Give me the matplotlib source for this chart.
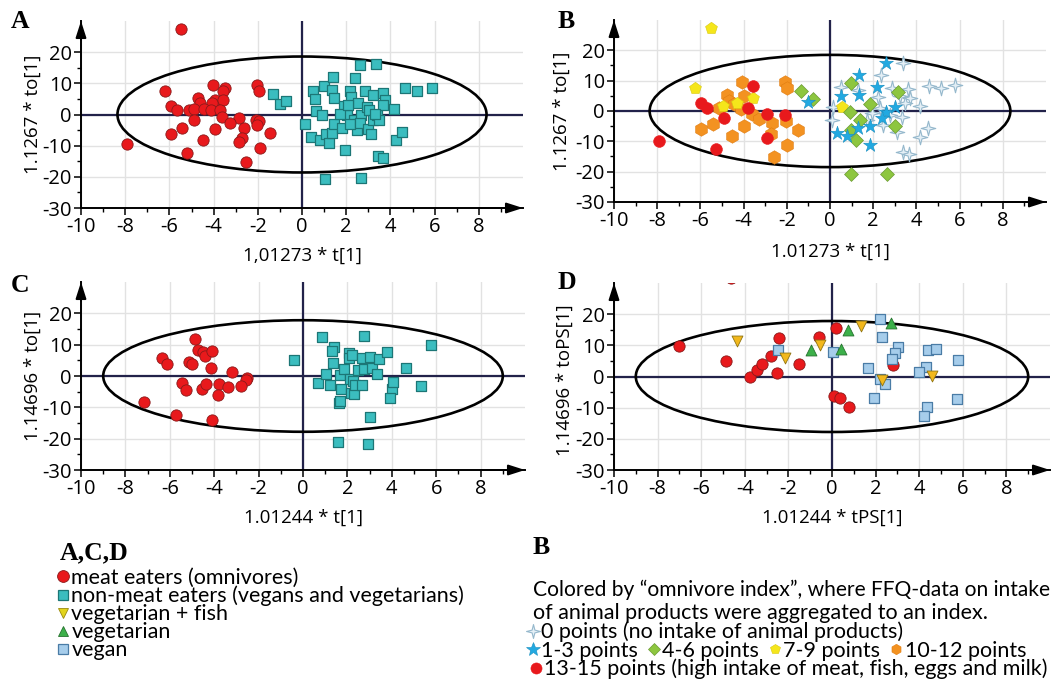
import matplotlib
matplotlib.use('Agg')
import matplotlib.pyplot as plt
from matplotlib.patches import Ellipse
from matplotlib.path import Path
from matplotlib.lines import Line2D

plt.rcParams['font.family'] = 'Open Sans'
plt.rcParams['axes.unicode_minus'] = False

W, H = 1057, 686

# ---------------- data ----------------
# A: meat eaters vs non-meat eaters
a_meat_x = [-5.46, -6.2, -4.03, -3.5, -3.56, -2.04, -1.96, -4.69, -4.6, -3.94, -3.56, -4.07,
            -5.94, -5.67, -5.1, -4.9, -4.42, -4.12, -3.73, -3.62, -4.9, -2.87, -2.07, -1.96,
            -3.27, -2.04, -5.42, -3.94, -2.63, -5.94, -1.43, -4.49, -2.7, -2.87, -7.92, -1.92,
            -5.22, -2.53]
a_meat_y = [27.3, 7.7, 9.5, 8.6, 7.5, 9.5, 7.7, 5.2, 3.7, 4.8, 4.5, 3.6,
            2.8, 1.3, 1.3, 1.8, 1.8, 1.3, 1.3, -0.9, -1.9, -1.1, -1.7, -2.1,
            -2.8, -3.4, -4.4, -4.6, -4.3, -6.1, -5.9, -8.1, -7.4, -8.8, -9.6, -10.9,
            -12.4, -15.1]
a_non_x = [-1.31, -0.98, -0.71, 0.14, 0.51, 0.59, 0.98, 0.63, 0.92, 0.41, 0.81, 1.09,
           1.21, 1.34, 1.39, 1.34, 1.46, 1.43, 1.79, 1.92, 1.96, 2.02, 2.16, 2.22,
           2.41, 2.62, 3.35, 2.52, 2.47, 2.37, 2.16, 2.67, 2.64, 2.87, 2.93, 3.05,
           2.97, 3.12, 3.2, 3.23, 3.39, 3.5, 3.65, 3.77, 3.65, 3.45, 3.65, 4.18,
           4.25, 4.52, 4.66, 5.19, 5.88, 1.06, 2.67, 1.72, 2.07, 3.3]
a_non_y = [6.5, 3.3, 4.2, -2.9, 7.7, 4.9, 9.3, 1.0, -0.3, -7.3, -8.3, -6.2,
           -9.2, -5.9, 12.0, 7.9, 5.3, -3.0, -4.3, 2.6, -11.3, -0.3, 7.7, 5.6,
           11.8, 15.9, 16.1, 3.6, -4.9, -1.9, -3.2, -0.3, -2.8, 7.5, 2.4, 1.3,
           -4.6, -6.2, -1.9, 6.2, -0.3, -1.7, 6.8, 4.5, 3.1, -13.2, -14.1, 1.7,
           -8.3, -5.5, 8.4, 7.5, 8.6, -20.7, -20.5, 0.1, 3.2, 0.2]

# B: omnivore index groups
b_p0_x = [3.36, 2.37, 0.5, 1.28, 2.89, 3.6, 4.6, 5.14, 5.8, 2.24, 3.25, 3.7, 3.48, 4.18,
          0.15, 0.08, 1.93, 2.32, 2.79, 3.33, 2.45, 3.1, 4.52, 4.18, 3.4, 3.64, 1.7]
b_p0_y = [15.8, 11.9, 7.8, 7.0, 7.5, 7.2, 8.3, 7.5, 8.6, 4.5, 5.0, 4.2, 2.8, 1.7,
          1.2, -3.0, -0.8, 0.9, -1.3, -1.9, -4.6, -6.9, -5.7, -8.5, -13.5, -14.3, -3.0]
b_p13_x = [2.6, 1.36, 0.53, 1.36, 2.17, -1.04, 2.99, 2.59, 2.4, 1.86, 1.28, 0.34, 0.8, 1.86]
b_p13_y = [15.8, 11.9, 5.0, 5.3, 7.8, 3.1, 1.4, -0.4, -2.2, -4.8, -5.7, -7.4, -8.3, -11.3]
b_p46_x = [-1.35, -0.77, 0.96, 0.93, 1.86, 3.17, 1.39, 0.98, 1.19, 2.99, 0.98, 2.63]
b_p46_y = [6.7, 4.0, 9.2, -0.4, 2.4, 6.3, -3.0, -6.3, -9.6, -4.9, -20.9, -20.8]
b_p79_x = [-5.53, -6.24, -3.56, -4.95, -4.3, 0.56]
b_p79_y = [27.4, 7.7, 4.4, 1.7, 2.6, 1.4]
b_p1012_x = [-4.06, -2.07, -2.0, -4.77, -4.67, -4.0, -4.44, -5.14, -4.1, -3.62, -3.31,
             -2.68, -2.06, -5.98, -5.43, -4.0, -4.55, -2.72, -1.46, -1.98, -2.6]
b_p1012_y = [9.4, 9.5, 7.5, 5.3, 3.4, 4.8, 2.2, 0.9, 0.6, -1.0, -2.8,
             -4.1, -3.3, -6.0, -4.4, -4.8, -8.3, -7.6, -6.1, -11.3, -15.1]
b_p1315_x = [-3.56, -5.96, -5.71, -4.91, -3.78, -2.93, -2.09, -2.93, -7.93, -5.28]
b_p1315_y = [8.3, 2.5, 1.1, -2.2, 1.1, -1.1, -1.4, -8.8, -9.9, -12.4]

# C: meat eaters vs non-meat eaters (second model)
c_meat_x = [-4.88, -4.71, -4.5, -4.41, -4.11, -6.35, -6.14, -5.12, -5.02, -4.14, -3.21,
            -2.53, -2.55, -5.47, -5.27, -4.53, -4.38, -3.77, -3.39, -2.8, -3.85, -7.18,
            -5.74, -4.12]
c_meat_y = [11.8, 8.4, 7.8, 6.5, 8.1, 5.7, 3.8, 4.6, 3.8, 2.7, 1.2,
            -0.5, -1.3, -2.2, -4.5, -4.0, -2.7, -2.4, -3.4, -3.2, -6.2, -8.2,
            -12.3, -14.2]
c_non_x = [-0.39, 0.85, 1.38, 1.32, 1.33, 0.67, 1.03, 1.23, 1.68, 1.71, 1.61, 1.68, 1.83,
           2.06, 2.06, 2.21, 2.11, 2.26, 2.14, 2.29, 2.36, 2.48, 2.64, 2.67, 2.77, 2.74,
           3.0, 3.12, 3.35, 3.42, 3.8, 4.0, 4.06, 3.92, 3.0, 4.64, 5.32, 5.77, 1.56, 2.94]
c_non_y = [5.2, 12.5, 9.1, 8.0, 4.3, -2.2, 0.5, -2.9, 0.3, -4.3, -8.6, -8.0, 2.3,
           7.3, 5.8, 6.8, -0.8, -1.6, -5.4, -5.6, -2.9, 1.9, -2.9, 5.7, 12.7, 2.2,
           6.0, 2.7, 0.5, 5.4, 7.8, -4.0, -1.8, -6.9, -13.1, 2.5, -3.2, 10.0, -21.2, -21.7]

# D: meat eaters / vegetarian + fish / vegetarian / vegan
d_meat_x = [-7.0, -4.87, -3.77, -3.44, -3.19, -2.8, -2.43, -2.51, -1.52, -0.59, 0.18,
            0.09, 0.37, 0.79, 2.81, -4.64]
d_meat_y = [9.7, 4.9, 0.0, 2.2, 3.9, 6.7, 12.4, 1.1, 4.0, 12.7, 15.7,
            -6.1, -6.8, -9.9, 3.7, 31.6]
d_fish_x = [-4.38, -2.14, -0.53, 1.31, 2.3, 4.59]
d_fish_y = [11.3, 6.0, 10.0, 16.1, -1.1, 0.3]
d_veg_x = [-0.96, 0.75, 0.41, 2.72]
d_veg_y = [8.6, 14.8, 8.9, 17.2]
d_vegan_x = [-2.46, 0.03, 2.19, 2.31, 3.03, 2.89, 2.75, 1.66, 2.19, 2.45, 1.93, 4.4,
             4.75, 4.33, 3.98, 5.78, 5.73, 4.37, 4.24]
d_vegan_y = [8.6, 8.0, 18.3, 12.7, 9.5, 7.6, 5.5, 2.7, -0.9, -2.4, -7.0, 8.4,
             8.7, 3.2, 1.4, 5.2, -7.2, -9.9, -12.8]

# ---------------- styles ----------------
RED = dict(marker='o', s=66, c='#e8191c', edgecolors='#8a1a1a', linewidths=0.6)
TEAL = dict(marker='s', s=52, c='#3bbdbf', edgecolors='#1c7676', linewidths=0.9)
star4 = Path([(0, 1), (0.2, 0.2), (1, 0), (0.2, -0.2), (0, -1), (-0.2, -0.2),
              (-1, 0), (-0.2, 0.2), (0, 1)],
             [Path.MOVETO] + [Path.LINETO] * 7 + [Path.CLOSEPOLY])
P0 = dict(marker=star4, s=110, c='#e4eff6', edgecolors='#95b8cc', linewidths=0.8)
P13 = dict(marker='*', s=110, c='#22a9e1', edgecolors='#1a8fc0', linewidths=0.4)
P46 = dict(marker='D', s=50, c='#8dc63f', edgecolors='#6c9a34', linewidths=0.5)
P79 = dict(marker='p', s=80, c='#f5e61b', edgecolors='#d8c810', linewidths=0.4)
P1012 = dict(marker='h', s=95, c='#f39221', edgecolors='#e07c10', linewidths=0.4)
P1315 = dict(marker='o', s=72, c='#e8191c', edgecolors='#e8191c', linewidths=0.4)
FISH = dict(marker='v', s=62, c='#f2b81d', edgecolors='#8f7412', linewidths=0.6)
VEG = dict(marker='^', s=62, c='#3cb04a', edgecolors='#27722f', linewidths=0.6)
VEGAN = dict(marker='s', s=55, c='#a6cdeb', edgecolors='#4a7ca6', linewidths=0.9)

fig = plt.figure(figsize=(W / 100, H / 100), dpi=100)

TICK_FS = 14.5
LAB_FS = 13.5


def panel(rect, semi, xlabel, ylabel, xl_y, yl_x, yl_y):
    l, t, r, b = rect
    ax = fig.add_axes([l / W, 1 - b / H, (r - l) / W, (b - t) / H])
    ax.set_xlim(-10, 10)
    ax.set_ylim(-30, 30)
    ax.set_xticks(range(-10, 9, 2))
    ax.set_xticks(range(-10, 10), minor=True)
    ax.set_yticks(range(-30, 21, 10))
    ax.set_yticks(range(-30, 30, 5), minor=True)
    ax.grid(True, which='major', color='#e2e2e2', lw=1.0, zorder=0)
    ax.set_axisbelow(True)
    for s in ('top', 'right'):
        ax.spines[s].set_visible(False)
    for s in ('left', 'bottom'):
        ax.spines[s].set_linewidth(1.4)
    ax.tick_params(which='major', length=5, width=1.1, labelsize=TICK_FS, pad=1.5)
    ax.tick_params(which='minor', length=3, width=1.0)
    ax.axhline(0, color='#22224a', lw=1.6, zorder=1)
    ax.axvline(0, color='#22224a', lw=1.6, zorder=1)
    ax.add_patch(Ellipse((0, 0), 2 * semi[0], 2 * semi[1], fill=False, ec='black', lw=1.9, zorder=2))
    arrow = dict(arrowstyle='-|>,head_length=1.0,head_width=0.32', color='black', lw=1.4,
                 shrinkA=0, shrinkB=0)
    ax.annotate('', xy=(1.0, 0), xytext=(0.9, 0), xycoords='axes fraction',
                arrowprops=arrow, annotation_clip=False)
    ax.annotate('', xy=(0, 1.0), xytext=(0, 0.9), xycoords='axes fraction',
                arrowprops=arrow, annotation_clip=False)
    ax.set_xlabel(xlabel, fontsize=LAB_FS, va='center')
    ax.set_ylabel(ylabel, fontsize=LAB_FS, va='center')
    ax.xaxis.set_label_coords(0.5, xl_y)
    ax.yaxis.set_label_coords(yl_x, yl_y)
    return ax


axA = panel((81, 21, 523, 208), (8.35, 18.6), '1,01273 * t[1]', '1.1267 * to[1]', -0.257, -0.109, 0.5)
axA.scatter(a_meat_x, a_meat_y, zorder=3, **RED)
axA.scatter(a_non_x, a_non_y, zorder=3, **TEAL)

axB = panel((614, 20, 1046, 202), (8.35, 18.5), '1.01273 * t[1]', '1.1267 * to[1]', -0.275, -0.12, 0.5)
axB.scatter(b_p0_x, b_p0_y, zorder=3, **P0)
axB.scatter(b_p1012_x, b_p1012_y, zorder=3, **P1012)
axB.scatter(b_p79_x, b_p79_y, zorder=3, **P79)
axB.scatter(b_p1315_x, b_p1315_y, zorder=3, **P1315)
axB.scatter(b_p46_x, b_p46_y, zorder=3, **P46)
axB.scatter(b_p13_x, b_p13_y, zorder=3, **P13)

axC = panel((81, 282, 525, 470), (9.0, 17.8), '1.01244 * t[1]', '1.14696 * to[1]', -0.255, -0.108, 0.5)
axC.scatter(c_meat_x, c_meat_y, zorder=3, **RED)
axC.scatter(c_non_x, c_non_y, zorder=3, **TEAL)

axD = panel((614, 283, 1050, 470), (9.0, 17.8), '1.01244 * tPS[1]', '1.14696 * toPS[1]', -0.257, -0.112, 0.48)
axD.scatter(d_meat_x, d_meat_y, zorder=3, **RED)
axD.scatter(d_vegan_x, d_vegan_y, zorder=3, **VEGAN)
axD.scatter(d_veg_x, d_veg_y, zorder=3, **VEG)
axD.scatter(d_fish_x, d_fish_y, zorder=3, **FISH)

# panel letters
serif = dict(family='Liberation Serif', weight='bold', fontsize=18.5, va='center', ha='left')
for letter, x, y in [('A', 11, 22), ('B', 558, 22), ('C', 11, 285), ('D', 558, 283)]:
    fig.text(x / W, 1 - y / H, letter, **serif)
fig.text(60 / W, 1 - 553 / H, 'A,C,D', **serif)
fig.text(533 / W, 1 - 548 / H, 'B', **serif)

# legends
LEG_FS = 15.5
lfont = dict(family='Lato', size=LEG_FS)


def handle(st, ms):
    return Line2D([], [], ls='none', marker=st['marker'], markersize=ms,
                  markerfacecolor=st['c'], markeredgecolor=st['edgecolors'],
                  markeredgewidth=st['linewidths'])


def legend(handles, labels, x, y, ncol=1, colsp=0.3, ls=-0.09, hl=0.55):
    fig.legend(handles, labels, loc='center left', bbox_to_anchor=(x / W, 1 - y / H),
               ncol=ncol, frameon=False, borderpad=0, borderaxespad=0,
               handlelength=hl, handletextpad=0.12, labelspacing=ls,
               columnspacing=colsp, prop=lfont)


acd_labels = ['meat eaters (omnivores)', 'non-meat eaters (vegans and vegetarians)',
              'vegetarian + fish', 'vegetarian', 'vegan']
acd_handles = [handle(RED, 8.5), handle(TEAL, 6.5),
               handle(dict(FISH, c='#e2d41c', edgecolors='#9a8a10'), 6.5),
               handle(VEG, 6.5), handle(VEGAN, 6.5)]
legend(acd_handles, acd_labels, 57, 614)

fig.text(533 / W, 1 - 590 / H, 'Colored by \u201comnivore index\u201d, where FFQ-data on intake',
         family='Lato', fontsize=15.1, va='center')
fig.text(533 / W, 1 - 613 / H, 'of animal products were aggregated to an index.',
         family='Lato', fontsize=LEG_FS, va='center')
legend([handle(P0, 10)], ['0 points (no intake of animal products)'], 527, 632)
legend([handle(P13, 10), handle(P46, 6.5), handle(P79, 7.5), handle(P1012, 7.5)],
       ['1-3 points', '4-6 points', '7-9 points', '10-12 points'], 527, 651, ncol=4, colsp=0.45)
legend([handle(P1315, 8)], ['13-15 points (high intake of meat, fish, eggs and milk)'], 530, 669)

fig.savefig('out.png', dpi=100)
